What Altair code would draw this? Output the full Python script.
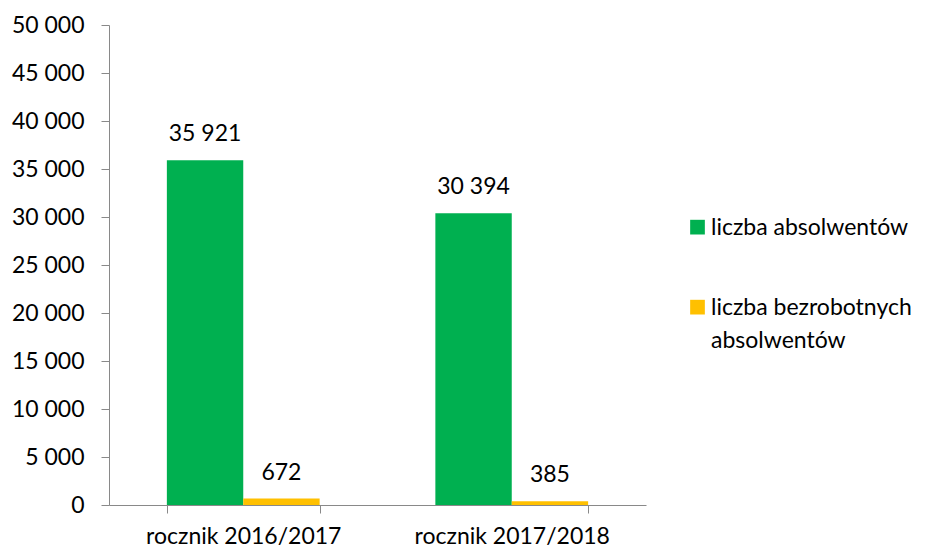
import altair as alt
import pandas as pd

categories = ["rocznik 2016/2017", "rocznik 2017/2018"]
series = ["liczba absolwentów", "liczba bezrobotnych absolwentów"]
absolwenci = [35921, 30394]
bezrobotni = [672, 385]
colors = ["#00B050", "#FFC000"]

rows = []
for i, c in enumerate(categories):
    rows.append({"rok": c, "seria": series[0], "wartosc": absolwenci[i]})
    rows.append({"rok": c, "seria": series[1], "wartosc": bezrobotni[i]})
df = pd.DataFrame(rows)

FONT = "Lato"
FS = 23

base = alt.Chart(df).encode(
    x=alt.X("rok:N", sort=categories, title=None,
            scale=alt.Scale(paddingInner=0.431, paddingOuter=0.2155),
            axis=alt.Axis(labelAngle=0, tickBand="extent", tickSize=8,
                          labelPadding=12, labelFont=FONT, labelFontSize=FS,
                          labelLimit=400,
                          labelColor="#000000", domainColor="#898989",
                          tickColor="#898989", grid=False)),
    xOffset=alt.XOffset("seria:N", sort=series, scale=alt.Scale(paddingInner=0, paddingOuter=0)),
)

bars = base.mark_bar().encode(
    y=alt.Y("wartosc:Q", title=None,
            scale=alt.Scale(domain=[0, 50000], nice=False),
            axis=alt.Axis(values=list(range(0, 50001, 5000)), tickSize=8,
                          labelPadding=17, labelFont=FONT, labelFontSize=FS,
                          labelColor="#000000", domainColor="#898989",
                          tickColor="#898989", grid=False,
                          labelExpr="replace(format(datum.value, ','), ',', ' ')")),
    color=alt.Color("seria:N", sort=series,
                    scale=alt.Scale(domain=series, range=colors),
                    legend=alt.Legend(title=None, orient="none", legendX=577, legendY=198,
                                      symbolType="M-1,-2H1V0H-1Z", symbolSize=216,
                                      symbolStrokeWidth=0, labelFont=FONT, labelFontSize=FS,
                                      labelColor="#000000", labelBaseline="alphabetic",
                                      labelOffset=2, rowPadding=56, labelLimit=400,
                                      labelExpr="datum.label == 'liczba bezrobotnych absolwentów' ? ['liczba bezrobotnych', 'absolwentów'] : datum.label")),
)

labels = base.mark_text(baseline="alphabetic", dy=-19, font=FONT, fontSize=FS, color="#000000").transform_calculate(
    lbl="replace(format(datum.wartosc, ','), ',', ' ')"
).encode(
    y=alt.Y("wartosc:Q", scale=alt.Scale(domain=[0, 50000], nice=False)),
    text="lbl:N",
)

chart = alt.layer(bars, labels).properties(
    width=537, height=480,
    autosize=alt.AutoSizeParams(type="none"),
    padding={"left": 101, "top": 17, "right": 270, "bottom": 43},
).configure(
    background="white",
    view=alt.ViewConfig(stroke=None),
    style={"guide-label": {"lineHeight": 33}},
)

chart.save("out.html", embed_options={"renderer": "svg", "actions": False})
